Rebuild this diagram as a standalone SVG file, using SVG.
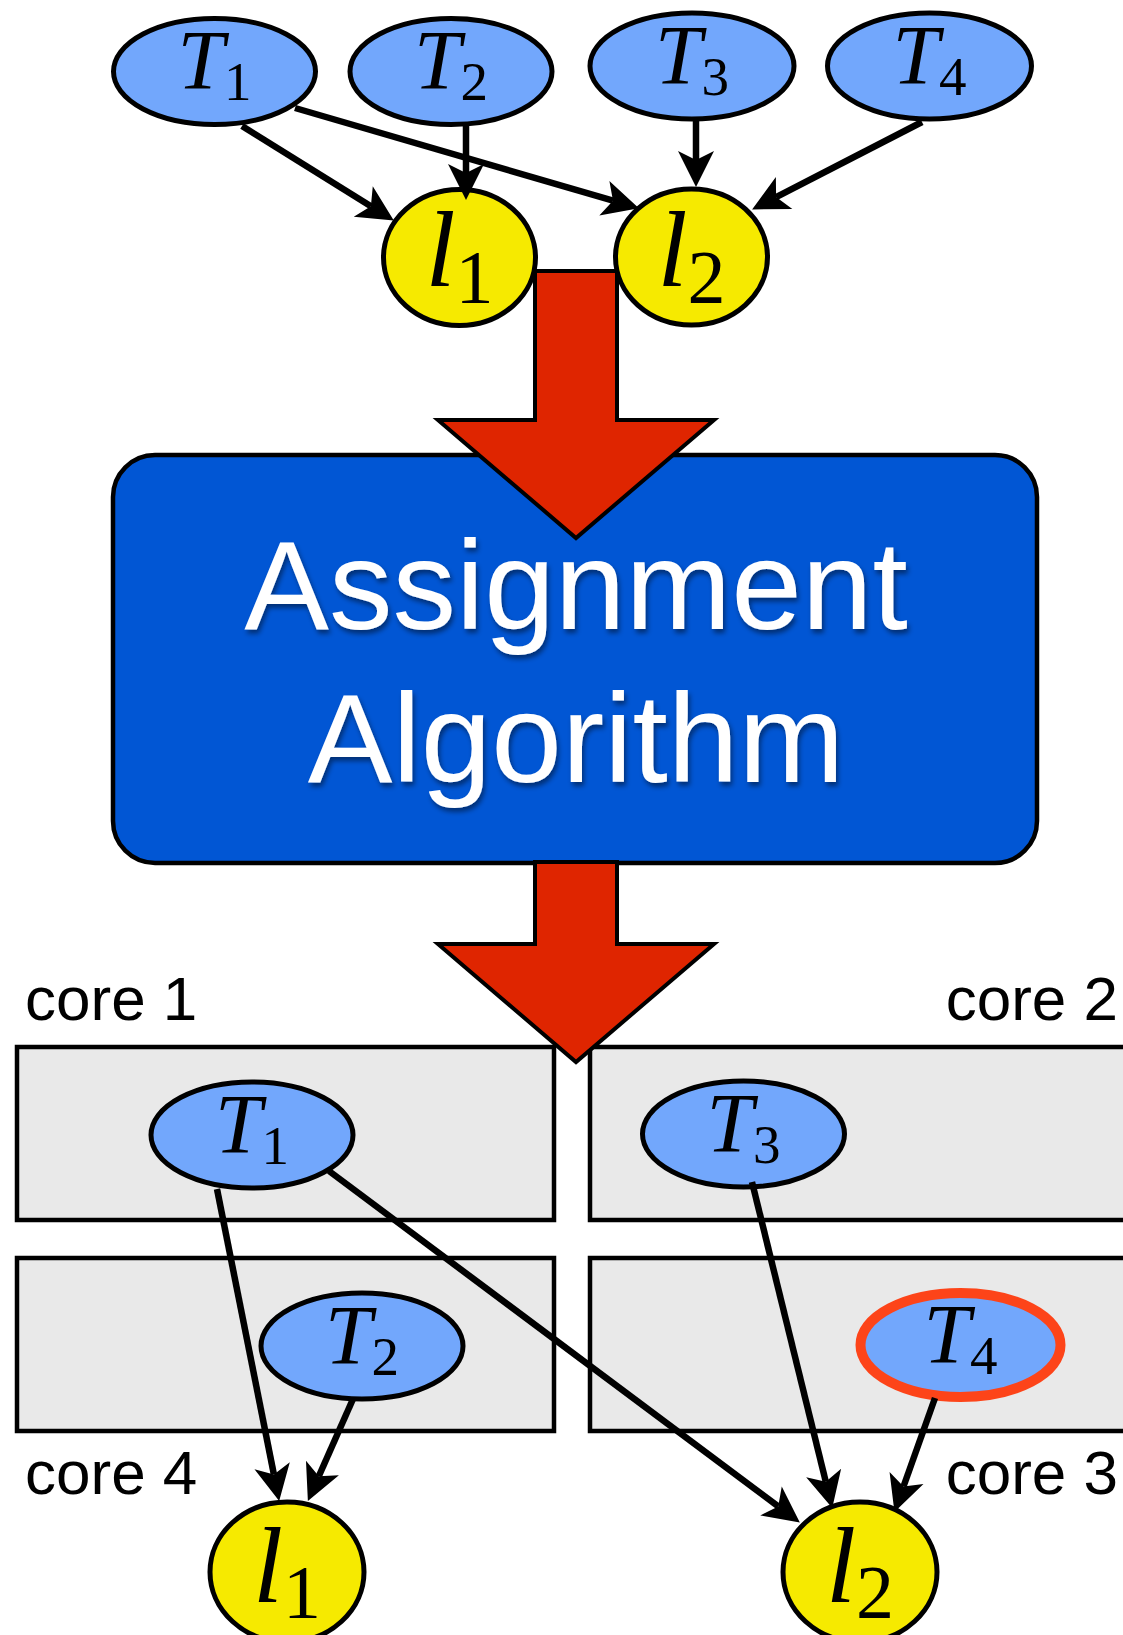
<svg xmlns="http://www.w3.org/2000/svg" width="1123" height="1635" viewBox="0 0 1123 1635">
  <style>
    .task { fill: #72a7fc; stroke: #000; stroke-width: 5; }
    .hot { stroke: #fd4419; stroke-width: 10; }
    .lock { fill: #f6ea00; stroke: #000; stroke-width: 5; }
    .core { fill: #e9e9e9; stroke: #000; stroke-width: 4.5; }
    .big { fill: #df2500; stroke: #000; stroke-width: 4; stroke-linejoin: miter; }
    .edge { stroke: #000; stroke-width: 6.5; fill: none; marker-end: url(#head); }
    .m { font-family: "Liberation Serif", "DejaVu Serif", serif; fill: #000; text-anchor: middle; }
    .mt { font-size: 84px; }
    .ml { font-size: 108px; }
    .it { font-style: italic; }
    .lbl { font-family: "Liberation Sans", Arial, sans-serif; font-size: 62px; fill: #000; }
    .title { font-family: "Liberation Sans", Arial, sans-serif; font-size: 127px; fill: #fff; text-anchor: middle; filter: url(#shadow); }
  </style>
  <defs>
    <marker id="head" markerUnits="userSpaceOnUse" markerWidth="46" markerHeight="46" viewBox="-12 -23 46 46" refX="0" refY="0" orient="auto">
      <path d="M27,0 L-9,-18 L0,0 L-9,18 Z" fill="#000"/>
    </marker>
    <filter id="shadow" x="-10%" y="-20%" width="120%" height="150%">
      <feDropShadow dx="2" dy="4" stdDeviation="2.5" flood-color="#000" flood-opacity="0.45"/>
    </filter>
  </defs>

  <!-- core partitions -->
  <g id="cores">
    <rect id="core1" class="core" x="17" y="1047" width="537" height="173"/>
    <rect id="core2" class="core" x="590" y="1047" width="545" height="173"/>
    <rect id="core4" class="core" x="17" y="1258" width="537" height="173"/>
    <rect id="core3" class="core" x="590" y="1258" width="545" height="173"/>
    <text class="lbl" x="25" y="1020">core 1</text>
    <text class="lbl" x="1118" y="1020" text-anchor="end">core 2</text>
    <text class="lbl" x="25" y="1494">core 4</text>
    <text class="lbl" x="1118" y="1494" text-anchor="end">core 3</text>
  </g>

  <!-- algorithm box -->
  <g id="algorithm">
    <rect x="113" y="455" width="924" height="408" rx="42" ry="42" fill="#0156d4" stroke="#000" stroke-width="4.5"/>
    <text class="title" x="576" y="629">Assignment</text>
    <text class="title" x="576" y="782">Algorithm</text>
  </g>

  <!-- input graph: tasks and locks -->
  <g id="in-T1"><ellipse class="task" cx="214.5" cy="71.5" rx="101" ry="53"/>
    <text class="m mt" x="214.5" y="89"><tspan class="it">T</tspan><tspan font-size="55" dy="11">1</tspan></text></g>
  <g id="in-T2"><ellipse class="task" cx="451" cy="71.5" rx="101" ry="53"/>
    <text class="m mt" x="451" y="89"><tspan class="it">T</tspan><tspan font-size="55" dy="11">2</tspan></text></g>
  <g id="in-T3"><ellipse class="task" cx="692" cy="66" rx="102" ry="53"/>
    <text class="m mt" x="692" y="83.5"><tspan class="it">T</tspan><tspan font-size="55" dy="11">3</tspan></text></g>
  <g id="in-T4"><ellipse class="task" cx="929.5" cy="66" rx="102" ry="53"/>
    <text class="m mt" x="929.5" y="83.5"><tspan class="it">T</tspan><tspan font-size="55" dy="11">4</tspan></text></g>
  <g id="in-l1"><ellipse class="lock" cx="459.5" cy="257.5" rx="76" ry="68"/>
    <text class="m ml" x="459.5" y="286"><tspan class="it">l</tspan><tspan font-size="76" dy="17">1</tspan></text></g>
  <g id="in-l2"><ellipse class="lock" cx="691.5" cy="257" rx="76" ry="68"/>
    <text class="m ml" x="691.5" y="285.5"><tspan class="it">l</tspan><tspan font-size="76" dy="17">2</tspan></text></g>

  <!-- assigned graph -->
  <g id="out-T1"><ellipse class="task" cx="252" cy="1135" rx="101" ry="53"/>
    <text class="m mt" x="252" y="1153"><tspan class="it">T</tspan><tspan font-size="55" dy="11">1</tspan></text></g>
  <g id="out-T3"><ellipse class="task" cx="743.5" cy="1134" rx="101" ry="53"/>
    <text class="m mt" x="743.5" y="1152"><tspan class="it">T</tspan><tspan font-size="55" dy="11">3</tspan></text></g>
  <g id="out-T2"><ellipse class="task" cx="362" cy="1346" rx="101" ry="53"/>
    <text class="m mt" x="362" y="1364"><tspan class="it">T</tspan><tspan font-size="55" dy="11">2</tspan></text></g>
  <g id="out-T4"><ellipse class="task hot" cx="960.5" cy="1345" rx="100" ry="52"/>
    <text class="m mt" x="960.5" y="1363"><tspan class="it">T</tspan><tspan font-size="55" dy="11">4</tspan></text></g>
  <g id="out-l1"><ellipse class="lock" cx="287" cy="1572" rx="77" ry="70"/>
    <text class="m ml" x="287" y="1602"><tspan class="it">l</tspan><tspan font-size="76" dy="16">1</tspan></text></g>
  <g id="out-l2"><ellipse class="lock" cx="860" cy="1572" rx="77" ry="70"/>
    <text class="m ml" x="860" y="1602"><tspan class="it">l</tspan><tspan font-size="76" dy="16">2</tspan></text></g>

  <!-- dependency edges -->
  <g id="connectors">
    <line class="edge" x1="242" y1="126" x2="370.9" y2="206.3"/>
    <line class="edge" x1="295" y1="108" x2="613" y2="200.7"/>
    <line class="edge" x1="466" y1="124" x2="466" y2="173"/>
    <line class="edge" x1="696" y1="118" x2="696" y2="160"/>
    <line class="edge" x1="922" y1="122" x2="776.1" y2="197.1"/>
    <line class="edge" x1="217" y1="1189" x2="273.9" y2="1474.5"/>
    <line class="edge" x1="353" y1="1399" x2="318.8" y2="1476.3"/>
    <line class="edge" x1="329" y1="1171" x2="778.2" y2="1506.4"/>
    <line class="edge" x1="752" y1="1182" x2="825.8" y2="1481.8"/>
    <line class="edge" x1="935" y1="1398" x2="903.5" y2="1486.5"/>
  </g>

  <!-- flow arrows -->
  <g id="flow">
    <polygon class="big" points="535,271 617,271 617,420 714,420 576,538 438,420 535,420"/>
    <polygon class="big" points="535,862 617,862 617,944 714,944 576,1062 438,944 535,944"/>
  </g>
</svg>
